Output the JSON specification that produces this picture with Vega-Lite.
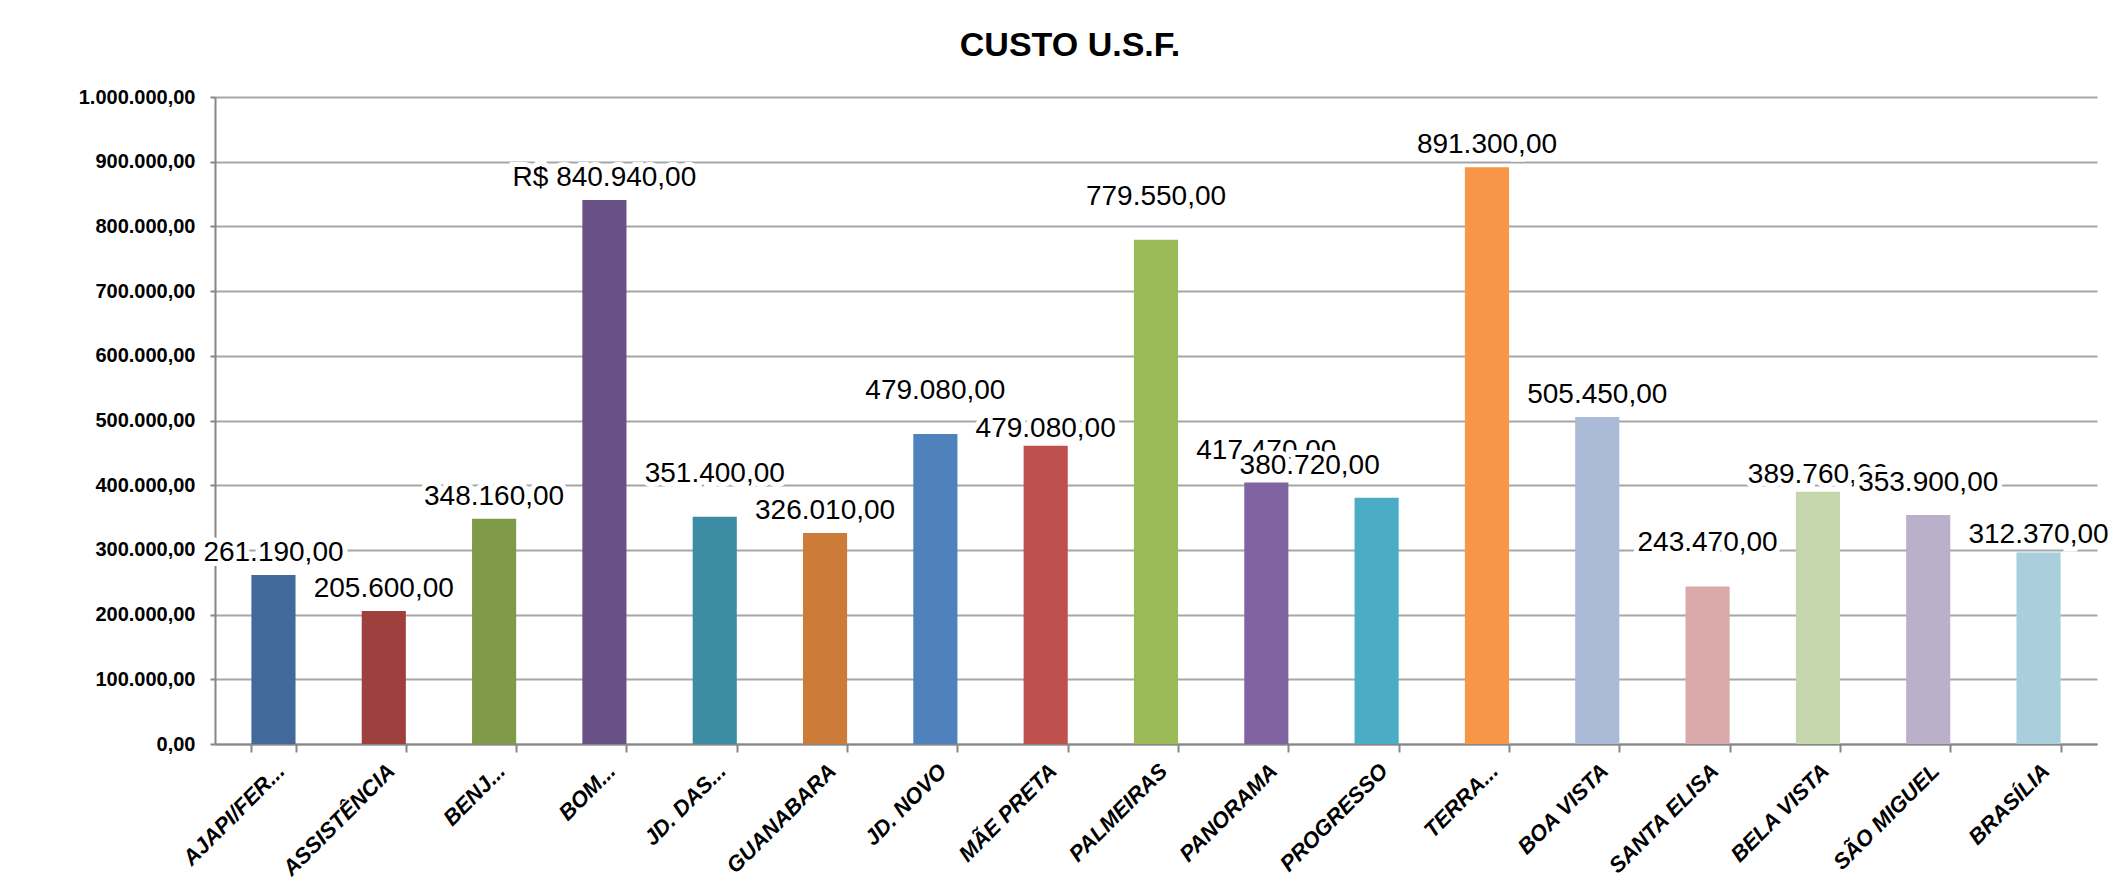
{
  "$schema": "https://vega.github.io/schema/vega-lite/v6.json",
  "autosize": {"type": "none"},
  "width": 1882,
  "height": 647,
  "padding": {"left": 215, "top": 97, "right": 19, "bottom": 147},
  "background": "white",
  "config": {
    "locale": {"number": {"decimal": ",", "thousands": ".", "grouping": [3], "currency": ["R$ ", ""]}},
    "view": {"stroke": null},
    "font": "Liberation Sans"
  },
  "title": {
    "text": "CUSTO U.S.F.",
    "font": "Liberation Sans",
    "fontSize": 34,
    "fontWeight": "bold",
    "color": "#000000",
    "anchor": "middle",
    "dx": -86,
    "offset": 24
  },
  "data": {
    "values": [
      {"usf": "AJAPI/FER...", "custo": 261190, "rotulo": "261.190,00"},
      {"usf": "ASSISTÊNCIA", "custo": 205600, "rotulo": "205.600,00"},
      {"usf": "BENJ...", "custo": 348160, "rotulo": "348.160,00"},
      {"usf": "BOM...", "custo": 840940, "rotulo": "R$ 840.940,00"},
      {"usf": "JD. DAS...", "custo": 351400, "rotulo": "351.400,00"},
      {"usf": "GUANABARA", "custo": 326010, "rotulo": "326.010,00"},
      {"usf": "JD. NOVO", "custo": 479080, "rotulo": "479.080,00"},
      {"usf": "MÃE PRETA", "custo": 461000, "rotulo": "479.080,00"},
      {"usf": "PALMEIRAS", "custo": 779550, "rotulo": "779.550,00"},
      {"usf": "PANORAMA", "custo": 404000, "rotulo": "417.470,00"},
      {"usf": "PROGRESSO", "custo": 380720, "rotulo": "380.720,00"},
      {"usf": "TERRA...", "custo": 891300, "rotulo": "891.300,00"},
      {"usf": "BOA VISTA", "custo": 505450, "rotulo": "505.450,00"},
      {"usf": "SANTA ELISA", "custo": 243470, "rotulo": "243.470,00"},
      {"usf": "BELA VISTA", "custo": 389760, "rotulo": "389.760,00"},
      {"usf": "SÃO MIGUEL", "custo": 353900, "rotulo": "353.900,00"},
      {"usf": "BRASÍLIA", "custo": 296000, "rotulo": "312.370,00"}
    ]
  },
  "encoding": {
    "x": {
      "field": "usf",
      "type": "nominal",
      "sort": null,
      "scale": {"paddingInner": 0.6, "paddingOuter": 0.33},
      "axis": {
        "title": null,
        "labelAngle": -45,
        "labelFont": "Liberation Sans",
        "labelFontSize": 22,
        "labelFontWeight": "bold",
        "labelFontStyle": "italic",
        "labelColor": "#000000",
        "labelLimit": 0,
        "labelPadding": 8,
        "tickBand": "extent",
        "tickSize": 8,
        "tickColor": "#868686",
        "tickWidth": 2,
        "domainColor": "#868686",
        "domainWidth": 2
      }
    },
    "y": {
      "field": "custo",
      "type": "quantitative",
      "scale": {"domain": [0, 1000000], "nice": false},
      "axis": {
        "title": null,
        "format": ",.2f",
        "values": [0, 100000, 200000, 300000, 400000, 500000, 600000, 700000, 800000, 900000, 1000000],
        "labelFont": "Liberation Sans",
        "labelFontSize": 20,
        "labelFontWeight": "bold",
        "labelColor": "#000000",
        "labelPadding": 15,
        "grid": true,
        "gridColor": "#a6a6a6",
        "gridWidth": 2,
        "domainColor": "#868686",
        "domainWidth": 2,
        "tickSize": 5,
        "tickColor": "#868686",
        "tickWidth": 2
      }
    }
  },
  "layer": [
    {
      "mark": {"type": "bar"},
      "encoding": {
        "color": {
          "field": "usf",
          "type": "nominal",
          "sort": null,
          "legend": null,
          "scale": {
            "domain": ["AJAPI/FER...", "ASSISTÊNCIA", "BENJ...", "BOM...", "JD. DAS...", "GUANABARA", "JD. NOVO", "MÃE PRETA", "PALMEIRAS", "PANORAMA", "PROGRESSO", "TERRA...", "BOA VISTA", "SANTA ELISA", "BELA VISTA", "SÃO MIGUEL", "BRASÍLIA"],
            "range": ["#41699A", "#9E413E", "#7F9A48", "#695185", "#3C8DA3", "#CC7B38", "#4F81BD", "#C0504D", "#9BBB59", "#8064A2", "#4BACC6", "#F79646", "#AABAD7", "#D9AAA9", "#C6D6AC", "#BAB0C9", "#A9CEDC"]
          }
        }
      }
    },
    {
      "transform": [{"filter": {"field": "usf", "oneOf": ["AJAPI/FER...", "ASSISTÊNCIA", "BENJ...", "BOM...", "GUANABARA", "TERRA...", "BOA VISTA"]}}],
      "layer": [
        {"mark": {"type": "text", "font": "Liberation Sans", "fontSize": 28, "baseline": "middle", "align": "center", "dy": -22, "stroke": "#ffffff", "strokeWidth": 10, "fill": "#ffffff"}, "encoding": {"text": {"field": "rotulo", "type": "nominal"}}},
        {"mark": {"type": "text", "font": "Liberation Sans", "fontSize": 28, "baseline": "middle", "align": "center", "dy": -22, "color": "#000000"}, "encoding": {"text": {"field": "rotulo", "type": "nominal"}}}
      ]
    },
    {
      "transform": [{"filter": {"field": "usf", "oneOf": ["MÃE PRETA", "BELA VISTA", "BRASÍLIA"]}}],
      "layer": [
        {"mark": {"type": "text", "font": "Liberation Sans", "fontSize": 28, "baseline": "middle", "align": "center", "dy": -17, "stroke": "#ffffff", "strokeWidth": 10, "fill": "#ffffff"}, "encoding": {"text": {"field": "rotulo", "type": "nominal"}}},
        {"mark": {"type": "text", "font": "Liberation Sans", "fontSize": 28, "baseline": "middle", "align": "center", "dy": -17, "color": "#000000"}, "encoding": {"text": {"field": "rotulo", "type": "nominal"}}}
      ]
    },
    {
      "transform": [{"filter": {"field": "usf", "oneOf": ["JD. DAS...", "JD. NOVO", "PALMEIRAS", "SANTA ELISA"]}}],
      "layer": [
        {"mark": {"type": "text", "font": "Liberation Sans", "fontSize": 28, "baseline": "middle", "align": "center", "dy": -43, "stroke": "#ffffff", "strokeWidth": 10, "fill": "#ffffff"}, "encoding": {"text": {"field": "rotulo", "type": "nominal"}}},
        {"mark": {"type": "text", "font": "Liberation Sans", "fontSize": 28, "baseline": "middle", "align": "center", "dy": -43, "color": "#000000"}, "encoding": {"text": {"field": "rotulo", "type": "nominal"}}}
      ]
    },
    {
      "transform": [{"filter": {"field": "usf", "oneOf": ["PANORAMA", "SÃO MIGUEL"]}}],
      "layer": [
        {"mark": {"type": "text", "font": "Liberation Sans", "fontSize": 28, "baseline": "middle", "align": "center", "dy": -32, "stroke": "#ffffff", "strokeWidth": 10, "fill": "#ffffff"}, "encoding": {"text": {"field": "rotulo", "type": "nominal"}}},
        {"mark": {"type": "text", "font": "Liberation Sans", "fontSize": 28, "baseline": "middle", "align": "center", "dy": -32, "color": "#000000"}, "encoding": {"text": {"field": "rotulo", "type": "nominal"}}}
      ]
    },
    {
      "transform": [{"filter": {"field": "usf", "oneOf": ["PROGRESSO"]}}],
      "layer": [
        {"mark": {"type": "text", "font": "Liberation Sans", "fontSize": 28, "baseline": "middle", "align": "center", "dy": -32, "dx": -67, "stroke": "#ffffff", "strokeWidth": 10, "fill": "#ffffff"}, "encoding": {"text": {"field": "rotulo", "type": "nominal"}}},
        {"mark": {"type": "text", "font": "Liberation Sans", "fontSize": 28, "baseline": "middle", "align": "center", "dy": -32, "dx": -67, "color": "#000000"}, "encoding": {"text": {"field": "rotulo", "type": "nominal"}}}
      ]
    }
  ]
}
